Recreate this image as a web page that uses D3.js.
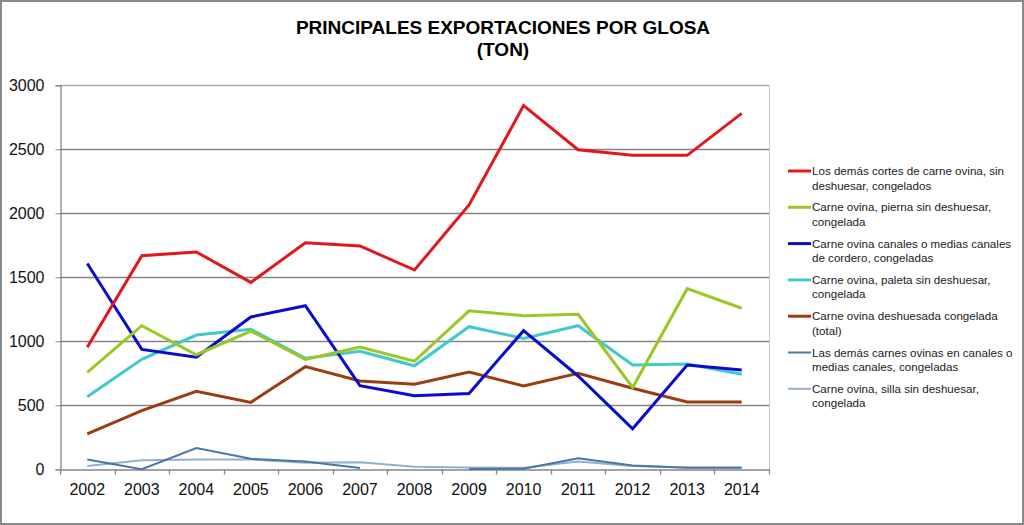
<!DOCTYPE html>
<html>
<head>
<meta charset="utf-8">
<script src="https://cdn.jsdelivr.net/npm/d3@7/dist/d3.min.js"></script>
<style>
  html, body { margin: 0; padding: 0; background: #fff; }
  svg { display: block; font-family: "Liberation Sans", Arial, sans-serif; }
</style>
</head>
<body>
<svg id="chart" width="1024" height="525"></svg>
<script>
const years = ["2002","2003","2004","2005","2006","2007","2008","2009","2010","2011","2012","2013","2014"];
const yTicks = [0, 500, 1000, 1500, 2000, 2500, 3000];

const seriesNames = [
  "Los demás cortes de carne ovina, sin deshuesar, congelados",
  "Carne ovina, pierna sin deshuesar, congelada",
  "Carne ovina canales o medias canales de cordero, congeladas",
  "Carne ovina, paleta sin deshuesar, congelada",
  "Carne ovina deshuesada congelada (total)",
  "Las demás carnes ovinas en canales o medias canales, congeladas",
  "Carne ovina, silla sin deshuesar, congelada"
];
const legendLines = [
  ["Los demás cortes de carne ovina, sin", "deshuesar, congelados"],
  ["Carne ovina, pierna sin deshuesar,", "congelada"],
  ["Carne ovina canales o medias canales", "de cordero, congeladas"],
  ["Carne ovina, paleta sin deshuesar,", "congelada"],
  ["Carne ovina deshuesada congelada", "(total)"],
  ["Las demás carnes ovinas en canales o", "medias canales, congeladas"],
  ["Carne ovina, silla sin deshuesar,", "congelada"]
];

const demasCortes = [953, 1668, 1698, 1460, 1770, 1745, 1557, 2065, 2841, 2497, 2453, 2453, 2781];
const pierna      = [758, 1122, 895, 1080, 859, 956, 845, 1238, 1200, 1211, 640, 1411, 1258];
const canales     = [1608, 937, 875, 1190, 1278, 653, 575, 592, 1083, 729, 317, 815, 776];
const paleta      = [567, 859, 1049, 1094, 867, 922, 809, 1114, 1023, 1122, 815, 823, 742];
const deshuesada  = [276, 458, 609, 523, 802, 690, 664, 760, 651, 750, 633, 526, 526];
const demasCarnes = [76, 0, 166, 82, 60, 10, null, 2, 5, 86, 30, 12, 12];
const silla       = [26, 70, 76, 76, 52, 55, 20, 15, 12, 60, 26, 14, 14];

const seriesValues = [demasCortes, pierna, canales, paleta, deshuesada, demasCarnes, silla];
const colors = ["#e3171b", "#9ac724", "#0b0bd0", "#41c9cb", "#9b3c12", "#4a76a8", "#94aed2"];
const widths = [3, 3, 3, 3, 3, 2, 2];

const svg = d3.select("#chart");
const W = 1024, H = 525;

// outer border
svg.append("rect").attr("x", 1).attr("y", 1).attr("width", W - 2).attr("height", H - 2)
  .attr("fill", "#fff").attr("stroke", "#8a8a8a").attr("stroke-width", 2);

// title
svg.append("text").attr("x", 503).attr("y", 34).attr("text-anchor", "middle")
  .attr("font-size", 19).attr("font-weight", "bold").attr("fill", "#000")
  .text("PRINCIPALES EXPORTACIONES POR GLOSA");
svg.append("text").attr("x", 503).attr("y", 56).attr("text-anchor", "middle")
  .attr("font-size", 19).attr("font-weight", "bold").attr("fill", "#000")
  .text("(TON)");

const pLeft = 60, pRight = 769, pTop = 85.3, pBottom = 469.3;
const x = d3.scaleBand().domain(years).range([pLeft, pRight]);
const y = d3.scaleLinear().domain([0, 3000]).range([pBottom, pTop]);

// gridlines
svg.append("g").selectAll("line").data(yTicks.filter(d => d > 0)).join("line")
  .attr("x1", pLeft).attr("x2", pRight)
  .attr("y1", d => Math.round(y(d)) + 0.5).attr("y2", d => Math.round(y(d)) + 0.5)
  .attr("stroke", d => d === 3000 ? "#a8a8a8" : "#858585").attr("stroke-width", 1.3);

// right edge line
svg.append("line").attr("x1", pRight + 0.5).attr("x2", pRight + 0.5).attr("y1", pTop).attr("y2", pBottom)
  .attr("stroke", "#c8c8c8").attr("stroke-width", 1);

// y axis
const yAxis = d3.axisLeft(y).tickValues(yTicks).tickSize(5).tickPadding(11).tickFormat(d3.format("d"));
const gy = svg.append("g").attr("transform", `translate(${pLeft + 0.5},0)`).call(yAxis);
gy.select(".domain").attr("stroke", "#858585").attr("stroke-width", 1.3);
gy.selectAll(".tick line").attr("stroke", "#858585");
gy.selectAll(".tick text").attr("font-size", 16).attr("fill", "#111")
  .attr("font-family", "Liberation Sans, Arial, sans-serif");

// x axis
const xAxis = d3.axisBottom(x).tickSize(0).tickPadding(14);
const gx = svg.append("g").attr("transform", `translate(0,${Math.round(pBottom) + 0.5})`).call(xAxis);
gx.select(".domain").attr("stroke", "#858585").attr("stroke-width", 1.3);
gx.selectAll(".tick text").attr("font-size", 16).attr("fill", "#111")
  .attr("font-family", "Liberation Sans, Arial, sans-serif");
// boundary ticks
const bounds = years.map(d => x(d)).concat([x(years[years.length - 1]) + x.bandwidth()]);
gx.append("g").selectAll("line").data(bounds).join("line")
  .attr("x1", d => Math.round(d) + 0.5).attr("x2", d => Math.round(d) + 0.5)
  .attr("y1", 0).attr("y2", 5).attr("stroke", "#858585").attr("stroke-width", 1.3);

// lines (draw low series first)
const line = d3.line()
  .defined(d => d.v !== null)
  .x(d => x(d.year) + x.bandwidth() / 2)
  .y(d => y(d.v));

const order = [6, 5, 4, 3, 2, 1, 0];
order.forEach(i => {
  const data = years.map((yr, j) => ({ year: yr, v: seriesValues[i][j] }));
  svg.append("path").datum(data)
    .attr("fill", "none").attr("stroke", colors[i]).attr("stroke-width", widths[i])
    .attr("stroke-linejoin", "miter").attr("d", line);
});

// legend
const lg = svg.append("g");
legendLines.forEach((ls, i) => {
  const yy = 175 + i * 36.3;
  lg.append("line").attr("x1", 788).attr("x2", 811).attr("y1", yy - 4).attr("y2", yy - 4)
    .attr("stroke", colors[i]).attr("stroke-width", widths[i]);
  ls.forEach((t, k) => {
    lg.append("text").attr("x", 812).attr("y", yy + k * 14.5)
      .attr("font-size", 11.6).attr("fill", "#1a1a1a").text(t);
  });
});
</script>
</body>
</html>
